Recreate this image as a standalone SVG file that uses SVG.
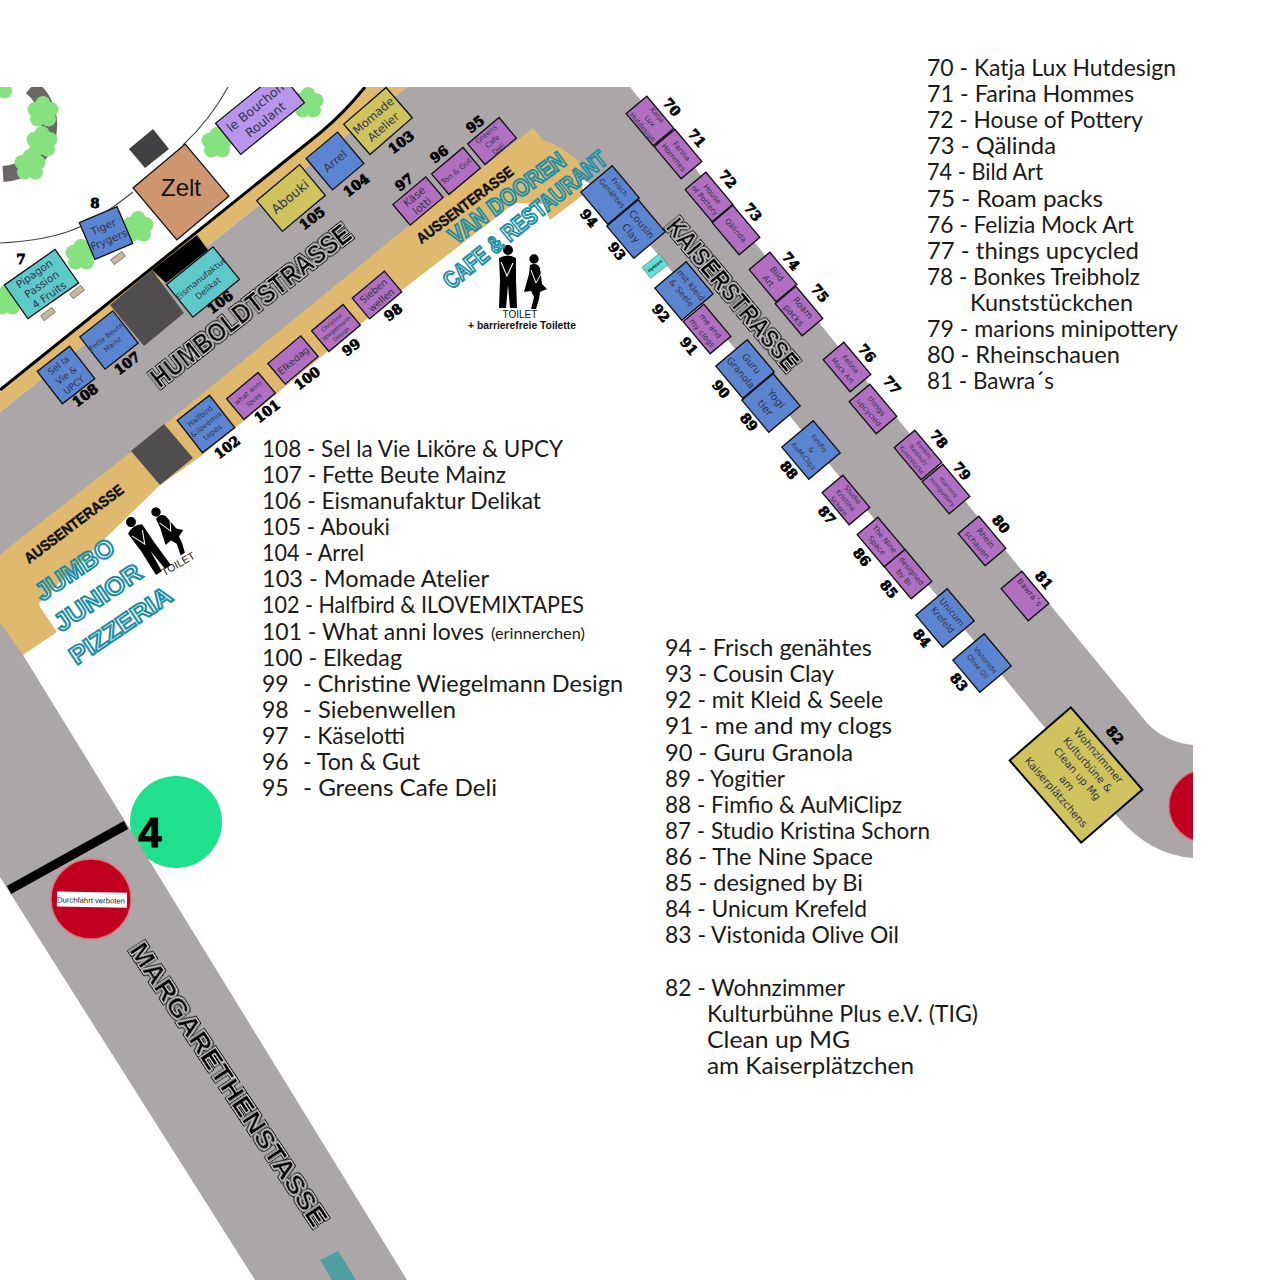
<svg xmlns="http://www.w3.org/2000/svg" xmlns:xlink="http://www.w3.org/1999/xlink" width="1280" height="1280" viewBox="0 0 1280 1280">
<style>
.st{stroke:#111;stroke-width:1.3}
.bl{fill:#5b85d1}.pu{fill:#b06fc0}.ye{fill:#cfc35e}.tu{fill:#5ec9c9}
.t{font-family:"DejaVu Sans","Liberation Sans",sans-serif;text-anchor:middle;fill:#33334a}
.n{font-family:"DejaVu Serif",serif;font-weight:900;font-size:13.5px;text-anchor:middle;fill:#000;stroke:#000;stroke-width:.8}
.l{font-family:"Lato","Liberation Sans",sans-serif;font-size:23px;fill:#1a1a1a}
.road{font-family:"Liberation Sans Narrow","Liberation Sans",sans-serif;font-weight:700;text-anchor:middle;fill:#000}
.terr{font-family:"Liberation Sans Narrow","Liberation Sans",sans-serif;font-weight:700;text-anchor:middle;fill:#111;stroke:#111;stroke-width:.5}
.teal{font-family:"Liberation Sans Narrow","Liberation Sans",sans-serif;font-weight:700;text-anchor:middle;fill:none;stroke:#1b8ea6;stroke-width:2}
.b{fill:#c8b79c;stroke:#6b6b6b;stroke-width:.8}
</style>
<defs>
<clipPath id="map"><rect x="0" y="87" width="1193" height="1193"/></clipPath>
<filter id="inl" x="-5%" y="-40%" width="110%" height="180%"><feMorphology in="SourceAlpha" operator="dilate" radius="2" result="o"/><feMorphology in="SourceAlpha" operator="dilate" radius="1" result="m"/><feFlood flood-color="#d4d2d2"/><feComposite in2="m" operator="in" result="g"/><feMerge><feMergeNode in="o"/><feMergeNode in="g"/><feMergeNode in="SourceGraphic"/></feMerge></filter>
<g id="tree" fill="#85e27e"><circle cx="0" cy="-8.500" r="7.500"/><circle cx="8" cy="-2.500" r="7.500"/><circle cx="5.500" cy="7" r="7.500"/><circle cx="-5.500" cy="7" r="7.500"/><circle cx="-8" cy="-2.500" r="7.500"/><circle r="6"/></g>
<g id="man"><circle cx="0" cy="0" r="5"/><path d="M-9,8Q0,3 8,8L8,30L9,58L2,58L0,35L-2,58L-9,58L-8,30Z"/><path d="M-7,12L-1,26L5,13" fill="none" stroke="#fff" stroke-width="1.1"/></g>
<g id="woman"><circle cx="0" cy="0" r="4.700"/><path d="M-4,6Q3,3 6,9L8,25L13,30L6,33L5,40L2,50L-3,50L0,38L-3,32L-10,33L-5,15Z"/><path d="M-3,11L2,24L7,15" fill="none" stroke="#fff" stroke-width="1"/></g>
</defs>
<rect width="1280" height="1280" fill="#fff"/>
<g id="map-base" clip-path="url(#map)">
<path id="roundabout" d="M31,87A49,49 0 0 1 3,174" fill="none" stroke="#6b6766" stroke-width="16"/>
<path d="M0,243Q40,241 67,232T133,192M183,145Q210,120 228,87" fill="none" stroke="#444" stroke-width="1.1"/>
<circle id="marker-4-bg" cx="176" cy="822" r="46" fill="#1fe08c"/>
<path id="road" fill="#aba7a8" d="M407,87L630,87L833,340L1147,723Q1165,742 1193,745L1193,858Q1150,855 1118,817L650,245L610,196L575,175L540,150L250,375L20,570L23,655L407,1280L255,1280L0,877L0,412Z"/>
<circle cx="1205" cy="806" r="36" fill="#c0001e" stroke="#e0606a" stroke-width="1.2"/>
<path id="terrace-top" fill="#deb96e" d="M0,392L320,133Q345,112 365,87L407,87L0,412Z"/>
<path d="M0,390L320,133Q345,112 365,87" fill="none" stroke="#000" stroke-width="3"/>
<path id="terrace-low" fill="#deb96e" d="M533,128L407,227L250,355L132,451L12,545L0,555L0,623L23,655L57,632L40,607Q38,602 42,600L160,485L200,457L402,290L515,203L543,204L550,220L583,195L580,162Q560,145 543,140Z"/>
<polygon fill="#000" points="152,270 197,235 208,250 166,283"/>
<polygon fill="#4f4d4d" points="110,305 152,270 184,313 144,346"/>
<polygon fill="#4f4d4d" points="131,451 164,424 193,458 160,485"/>
<polygon fill="#414042" points="129,149 153,129 169,149 145,168"/>
<polygon fill="#4f9ea0" points="320,1260 338,1251 356,1280 332,1280"/>
<path d="M9,890L126,825" stroke="#000" stroke-width="9"/>
<use href="#tree" xlink:href="#tree" x="217" y="143"/><use href="#tree" xlink:href="#tree" x="308" y="103"/><use href="#tree" xlink:href="#tree" x="138" y="227"/><use href="#tree" xlink:href="#tree" x="81" y="255"/><use href="#tree" xlink:href="#tree" x="7" y="300"/><use href="#tree" xlink:href="#tree" x="43" y="112"/><use href="#tree" xlink:href="#tree" x="42" y="142"/><use href="#tree" xlink:href="#tree" x="30" y="165"/><use href="#tree" xlink:href="#tree" x="-1" y="84"/>
<rect class="b" x="-7" y="-3" width="14" height="6" transform="translate(77,292) rotate(-37)"/><rect class="b" x="-7" y="-3" width="14" height="6" transform="translate(48,314) rotate(-37)"/><rect class="b" x="-7" y="-3" width="14" height="6" transform="translate(118,258) rotate(-37)"/>
</g>
<g id="signs">
<g id="no-entry"><circle cx="91" cy="899" r="40" fill="#c0001e" stroke="#e0707a" stroke-width="1.3"/><rect x="57" y="892" width="70" height="15" fill="#fff" transform="rotate(1 91 899)"/><text x="91" y="903" font-family="Liberation Sans,sans-serif" font-size="7.700" text-anchor="middle" fill="#222" transform="rotate(1 91 899)">Durchfahrt verboten</text></g>
<text id="marker-4" x="150" y="847" font-family="Liberation Sans,sans-serif" font-weight="700" font-size="42" text-anchor="middle" fill="#000" stroke="#000" stroke-width="1">4</text>
<use href="#man" xlink:href="#man" x="508" y="250"/><use href="#woman" xlink:href="#woman" x="534" y="259"/>
<g transform="translate(131,522) rotate(-34)"><use href="#man" xlink:href="#man"/></g><g transform="translate(156,512) rotate(-33)"><use href="#woman" xlink:href="#woman"/></g>
<text x="520" y="318" font-family="Liberation Sans,sans-serif" font-size="10" text-anchor="middle" fill="#111">TOILET</text>
<text x="522" y="329" font-family="Liberation Sans,sans-serif" font-weight="700" font-size="10" text-anchor="middle" fill="#111" textLength="108" lengthAdjust="spacingAndGlyphs">+ barrierefreie Toilette</text>
<text transform="translate(180,567) rotate(-30)" font-family="Liberation Sans,sans-serif" font-size="10.500" text-anchor="middle" fill="#111">TOILET</text>
</g>
<g id="street-labels">
<text class="road" filter="url(#inl)" font-size="27" transform="translate(251,306) rotate(-38)" y="9" textLength="246" lengthAdjust="spacingAndGlyphs">HUMBOLDTSTRASSE</text>
<text class="road" filter="url(#inl)" font-size="25" transform="translate(732,295) rotate(50)" y="8" textLength="190" lengthAdjust="spacingAndGlyphs">KAISERSTRASSE</text>
<text class="road" filter="url(#inl)" font-size="25" transform="translate(228,1085) rotate(56.400)" y="8" textLength="335" lengthAdjust="spacingAndGlyphs">MARGARETHENSTASSE</text>
<text class="terr" font-size="15" transform="translate(465,205) rotate(-37)" y="5" textLength="117" lengthAdjust="spacingAndGlyphs">AUSSENTERASSE</text>
<text class="terr" font-size="15" transform="translate(74,524) rotate(-37)" y="5" textLength="120" lengthAdjust="spacingAndGlyphs">AUSSENTERASSE</text>
<text class="teal" font-size="24" transform="translate(507,198) rotate(-36)" y="8" textLength="138" lengthAdjust="spacingAndGlyphs">VAN DOOREN</text>
<text class="teal" font-size="24" transform="translate(525,220) rotate(-39)" y="8" textLength="203" lengthAdjust="spacingAndGlyphs">CAFE &amp; RESTAURANT</text>
<text class="teal" font-size="25" transform="translate(75,570) rotate(-34)" y="8" textLength="90" lengthAdjust="spacingAndGlyphs">JUMBO</text>
<text class="teal" font-size="25" transform="translate(98,598) rotate(-34)" y="8" textLength="100" lengthAdjust="spacingAndGlyphs">JUNIOR</text>
<text class="teal" font-size="25" transform="translate(121,626) rotate(-34)" y="8" textLength="118" lengthAdjust="spacingAndGlyphs">PIZZERIA</text>
</g>
<g id="stalls">
<g id="s-zelt"><g transform="translate(181,192) rotate(-40)"><rect x="-34" y="-34" width="68" height="68" fill="#cd9670" class="st"/></g><text x="181" y="196" font-family="Liberation Sans,sans-serif" font-size="24" text-anchor="middle" fill="#111">Zelt</text></g>
<g id="s-bouchon" clip-path="url(#map)"><g transform="translate(260,113) rotate(-39)"><rect x="-41" y="-20" width="82" height="40" fill="#b894ec" class="st"/><text class="t" font-size="12.500"><tspan x="0" y="-3">le Bouchon</tspan><tspan x="0" y="13">Roulant</tspan></text></g></g>
<g id="s-7"><g transform="translate(41.500,284) rotate(-35)"><rect class="st tu" x="-31" y="-20.500" width="62" height="41"/><text class="t" font-size="10.500"><tspan x="0" y="-9">Pipagon</tspan><tspan x="0" y="4">Passion</tspan><tspan x="0" y="17">4 Fruits</tspan></text></g><text class="n" transform="translate(21,264)">7</text></g>
<g id="s-8"><g transform="translate(106,233) rotate(-23)"><rect class="st bl" x="-20.500" y="-20" width="41" height="40"/><text class="t" font-size="10.500"><tspan x="0" y="-3">Tiger</tspan><tspan x="0" y="11">Frygers</tspan></text></g><text class="n" transform="translate(95,208)">8</text></g>
<g id="s-106"><g transform="translate(203,282) rotate(-39)"><rect class="st tu" x="-30" y="-21" width="60" height="42"/><text class="t" font-size="8.500"><tspan x="0" y="-1">Eismanufaktur</tspan><tspan x="0" y="11">Delikat</tspan></text></g><text class="n" transform="translate(220,302) rotate(-37)" y="5">106</text></g>
<g id="s-107"><g transform="translate(109,340) rotate(-38)"><rect class="st bl" x="-21" y="-20.500" width="42" height="41"/><text class="t" font-size="7"><tspan x="0" y="-2">Fette Beute</tspan><tspan x="0" y="8">Mainz</tspan></text></g><text class="n" transform="translate(127,363) rotate(-37)" y="5">107</text></g>
<g id="s-108"><g transform="translate(66,375) rotate(-38)"><rect class="st bl" x="-20.500" y="-20.500" width="41" height="41"/><text class="t" font-size="9"><tspan x="0" y="-9">Sel la</tspan><tspan x="0" y="3.500">Vie &amp;</tspan><tspan x="0" y="16">UPCY</tspan></text></g><text class="n" transform="translate(85,395) rotate(-37)" y="5">108</text></g>
<g id="s-105"><g transform="translate(291,198) rotate(-40)"><rect class="st ye" x="-28" y="-20" width="56" height="40"/><text class="t" font-size="13" y="3">Abouki</text></g><text class="n" transform="translate(312,218) rotate(-37)" y="5">105</text></g>
<g id="s-104"><g transform="translate(335,161) rotate(-40)"><rect class="st bl" x="-20.500" y="-20.500" width="41" height="41"/><text class="t" font-size="11.500" y="4">Arrel</text></g><text class="n" transform="translate(356,185) rotate(-37)" y="5">104</text></g>
<g id="s-103"><g transform="translate(378,121) rotate(-41)"><rect class="st ye" x="-28" y="-20" width="56" height="40"/><text class="t" font-size="11.500"><tspan x="0" y="-3">Momade</tspan><tspan x="0" y="12">Atelier</tspan></text></g><text class="n" transform="translate(401,142) rotate(-37)" y="5">103</text></g>
<g id="s-97"><g transform="translate(418,201) rotate(-40)"><rect class="st pu" x="-21.500" y="-13.500" width="43" height="27"/><text class="t" font-size="10.500"><tspan x="0" y="-2">Käse</tspan><tspan x="0" y="10">lotti</tspan></text></g><text class="n" transform="translate(404,182) rotate(-37)" y="5">97</text></g>
<g id="s-96"><g transform="translate(456,171) rotate(-40)"><rect class="st pu" x="-20.500" y="-13.500" width="41" height="27"/><text class="t" font-size="7.500" y="3">Ton &amp; Gut</text></g><text class="n" transform="translate(439,154) rotate(-37)" y="5">96</text></g>
<g id="s-95"><g transform="translate(492,141) rotate(-40)"><rect class="st pu" x="-20.500" y="-13.500" width="41" height="27"/><text class="t" font-size="7.200"><tspan x="0" y="-6.500">Greens</tspan><tspan x="0" y="3">Cafe</tspan><tspan x="0" y="12.500">Deli</tspan></text></g><text class="n" transform="translate(475,124) rotate(-37)" y="5">95</text></g>
<g id="s-98"><g transform="translate(377,295) rotate(-40)"><rect class="st pu" x="-21" y="-13.500" width="42" height="27"/><text class="t" font-size="9.500"><tspan x="0" y="-2">Sieben</tspan><tspan x="0" y="10">wellen</tspan></text></g><text class="n" transform="translate(393,312) rotate(-37)" y="5">98</text></g>
<g id="s-99"><g transform="translate(336,328) rotate(-40)"><rect class="st pu" x="-20.500" y="-13.500" width="41" height="27"/><text class="t" font-size="5.600"><tspan x="0" y="-5">Christine</tspan><tspan x="0" y="2.500">Wiegelmann</tspan><tspan x="0" y="10">Design</tspan></text></g><text class="n" transform="translate(351,347) rotate(-37)" y="5">99</text></g>
<g id="s-100"><g transform="translate(293,360) rotate(-40)"><rect class="st pu" x="-21.500" y="-13.500" width="43" height="27"/><text class="t" font-size="9.500" y="4">Elkedag</text></g><text class="n" transform="translate(307,378) rotate(-37)" y="5">100</text></g>
<g id="s-101"><g transform="translate(251,396) rotate(-40)"><rect class="st pu" x="-20.500" y="-13.500" width="41" height="27"/><text class="t" font-size="6.800"><tspan x="0" y="-2">what anni</tspan><tspan x="0" y="7">loves</tspan></text></g><text class="n" transform="translate(267,411) rotate(-37)" y="5">101</text></g>
<g id="s-102"><g transform="translate(206,424) rotate(-38)"><rect class="st bl" x="-20.500" y="-20.500" width="41" height="41"/><text class="t" font-size="7.500"><tspan x="0" y="-7">Halfbird</tspan><tspan x="0" y="3">&amp;ilovemix</tspan><tspan x="0" y="13">tapes</tspan></text></g><text class="n" transform="translate(227,447) rotate(-37)" y="5">102</text></g>

<g id="s-70"><g transform="translate(650,121) rotate(50)"><rect class="st pu" x="-21" y="-13.500" width="42" height="27"/><text class="t" font-size="7"><tspan x="0" y="-7">Katja</tspan><tspan x="0" y="2.500">Lux</tspan><tspan x="0" y="12">Hutdesign</tspan></text></g><text class="n" transform="translate(672,107) rotate(50)" y="5">70</text></g>
<g id="s-71"><g transform="translate(678,154) rotate(50)"><rect class="st pu" x="-21" y="-13.500" width="42" height="27"/><text class="t" font-size="7.500"><tspan x="0" y="-2">Farina</tspan><tspan x="0" y="8">Hommes</tspan></text></g><text class="n" transform="translate(697,138) rotate(50)" y="5">71</text></g>
<g id="s-72"><g transform="translate(709,197) rotate(50)"><rect class="st pu" x="-21" y="-13.500" width="42" height="27"/><text class="t" font-size="7.500"><tspan x="0" y="-2">House</tspan><tspan x="0" y="8">of Pottery</tspan></text></g><text class="n" transform="translate(728,179) rotate(50)" y="5">72</text></g>
<g id="s-73"><g transform="translate(736,230) rotate(50)"><rect class="st pu" x="-21" y="-13.500" width="42" height="27"/><text class="t" font-size="7.500" y="3">Qälinda</text></g><text class="n" transform="translate(753,212) rotate(50)" y="5">73</text></g>
<g id="s-74"><g transform="translate(773,277) rotate(50)"><rect class="st pu" x="-21" y="-13.500" width="42" height="27"/><text class="t" font-size="8.500"><tspan x="0" y="-2">Bild</tspan><tspan x="0" y="9">Art</tspan></text></g><text class="n" transform="translate(791,261) rotate(50)" y="5">74</text></g>
<g id="s-75"><g transform="translate(799,311) rotate(50)"><rect class="st pu" x="-21" y="-13.500" width="42" height="27"/><text class="t" font-size="9"><tspan x="0" y="-2">Roam</tspan><tspan x="0" y="10">packs</tspan></text></g><text class="n" transform="translate(820,293) rotate(50)" y="5">75</text></g>
<g id="s-76"><g transform="translate(847,367) rotate(50)"><rect class="st pu" x="-21" y="-13.500" width="42" height="27"/><text class="t" font-size="7"><tspan x="0" y="-2">Felizia</tspan><tspan x="0" y="8">Mock Art</tspan></text></g><text class="n" transform="translate(867,353) rotate(50)" y="5">76</text></g>
<g id="s-77"><g transform="translate(873,409) rotate(50)"><rect class="st pu" x="-21" y="-13.500" width="42" height="27"/><text class="t" font-size="7.500"><tspan x="0" y="-2">things</tspan><tspan x="0" y="8">upcycled</tspan></text></g><text class="n" transform="translate(892,385) rotate(50)" y="5">77</text></g>
<g id="s-78"><g transform="translate(918,455) rotate(50)"><rect class="st pu" x="-21" y="-13.500" width="42" height="27"/><text class="t" font-size="5.800"><tspan x="0" y="-6">Bonkes</tspan><tspan x="0" y="2">Treibholz</tspan><tspan x="0" y="10">Kunststücke</tspan></text></g><text class="n" transform="translate(939,439) rotate(50)" y="5">78</text></g>
<g id="s-79"><g transform="translate(946,489) rotate(50)"><rect class="st pu" x="-21" y="-13.500" width="42" height="27"/><text class="t" font-size="6.200"><tspan x="0" y="-1">marions</tspan><tspan x="0" y="7">minipottery</tspan></text></g><text class="n" transform="translate(962,471) rotate(50)" y="5">79</text></g>
<g id="s-80"><g transform="translate(982,541) rotate(50)"><rect class="st pu" x="-21" y="-13.500" width="42" height="27"/><text class="t" font-size="8"><tspan x="0" y="-2">Rhein</tspan><tspan x="0" y="9">schauen</tspan></text></g><text class="n" transform="translate(1001,524) rotate(50)" y="5">80</text></g>
<g id="s-81"><g transform="translate(1025,596) rotate(50)"><rect class="st pu" x="-21" y="-13.500" width="42" height="27"/><text class="t" font-size="8" y="-3">Bawra´s</text></g><text class="n" transform="translate(1044,580) rotate(50)" y="5">81</text></g>
<g id="s-82"><g transform="translate(1076,775) rotate(49)"><rect class="ye" stroke="#000" stroke-width="2" x="-54.500" y="-40.500" width="109" height="81"/><text class="t" font-size="10.500"><tspan x="0" y="-26">Wohnzimmer</tspan><tspan x="0" y="-12">Kulturbüne &amp;</tspan><tspan x="0" y="2">Clean up Mg</tspan><tspan x="0" y="16">am</tspan><tspan x="0" y="30">Kaiserplätzchens</tspan></text></g><text class="n" transform="translate(1115,735) rotate(50)" y="5">82</text></g>
<g id="s-83"><g transform="translate(982,663) rotate(50)"><rect class="st bl" x="-21" y="-20.500" width="42" height="41"/><text class="t" font-size="7"><tspan x="0" y="-2">Vistonida</tspan><tspan x="0" y="8">Olive Oil</tspan></text></g><text class="n" transform="translate(959,682) rotate(50)" y="5">83</text></g>
<g id="s-84"><g transform="translate(945,618) rotate(50)"><rect class="st bl" x="-21" y="-20.500" width="42" height="41"/><text class="t" font-size="8.800"><tspan x="0" y="-6">Unicum</tspan><tspan x="0" y="6">Krefeld</tspan></text></g><text class="n" transform="translate(922,638) rotate(50)" y="5">84</text></g>
<g id="s-85"><g transform="translate(908,574) rotate(50)"><rect class="st pu" x="-21" y="-13.500" width="42" height="27"/><text class="t" font-size="7.500"><tspan x="0" y="-2">designed</tspan><tspan x="0" y="8">by Bi</tspan></text></g><text class="n" transform="translate(889,589) rotate(50)" y="5">85</text></g>
<g id="s-86"><g transform="translate(881,542) rotate(50)"><rect class="st pu" x="-21" y="-13.500" width="42" height="27"/><text class="t" font-size="7.500"><tspan x="0" y="-2">The Nine</tspan><tspan x="0" y="8">Space</tspan></text></g><text class="n" transform="translate(862,557) rotate(50)" y="5">86</text></g>
<g id="s-87"><g transform="translate(846,500) rotate(50)"><rect class="st pu" x="-21" y="-13.500" width="42" height="27"/><text class="t" font-size="6.800"><tspan x="0" y="-6">Studio</tspan><tspan x="0" y="3">Kristina</tspan><tspan x="0" y="12">Schorn</tspan></text></g><text class="n" transform="translate(827,515) rotate(50)" y="5">87</text></g>
<g id="s-88"><g transform="translate(811,450) rotate(50)"><rect class="st bl" x="-21" y="-20.500" width="42" height="41"/><text class="t" font-size="7"><tspan x="0" y="-8">Fimfio</tspan><tspan x="0" y="2">&amp;</tspan><tspan x="0" y="12">AuMiClipz</tspan></text></g><text class="n" transform="translate(789,470) rotate(50)" y="5">88</text></g>
<g id="s-89"><g transform="translate(771,403) rotate(50)"><rect class="st bl" x="-21" y="-20.500" width="42" height="41"/><text class="t" font-size="10.500"><tspan x="0" y="-3">Yogi</tspan><tspan x="0" y="11">tier</tspan></text></g><text class="n" transform="translate(749,422) rotate(50)" y="5">89</text></g>
<g id="s-90"><g transform="translate(745,369) rotate(50)"><rect class="st bl" x="-21" y="-20.500" width="42" height="41"/><text class="t" font-size="9.500"><tspan x="0" y="-5">Guru</tspan><tspan x="0" y="9">Granola</tspan></text></g><text class="n" transform="translate(721,389) rotate(50)" y="5">90</text></g>
<g id="s-91"><g transform="translate(707,329) rotate(50)"><rect class="st pu" x="-21" y="-13.500" width="42" height="27"/><text class="t" font-size="7.800"><tspan x="0" y="-2">me and</tspan><tspan x="0" y="9">my clogs</tspan></text></g><text class="n" transform="translate(689,346) rotate(50)" y="5">91</text></g>
<g id="s-92"><g transform="translate(684,291) rotate(50)"><rect class="st bl" x="-21" y="-20.500" width="42" height="41"/><text class="t" font-size="8.500"><tspan x="0" y="-6">mit Kleid</tspan><tspan x="0" y="6">&amp; Seele</tspan></text></g><text class="n" transform="translate(661,313) rotate(50)" y="5">92</text></g>
<g id="s-93"><g transform="translate(636,229) rotate(50)"><rect class="st bl" x="-21" y="-20.500" width="42" height="41"/><text class="t" font-size="10"><tspan x="0" y="-4">Cousin</tspan><tspan x="0" y="10">Clay</tspan></text></g><text class="n" transform="translate(617,251) rotate(50)" y="5">93</text></g>
<g id="s-94"><g transform="translate(610,195) rotate(50)"><rect class="st bl" x="-21" y="-20.500" width="42" height="41"/><text class="t" font-size="7.500"><tspan x="0" y="-10">Frisch</tspan><tspan x="0" y="0">Genähtes</tspan></text></g><text class="n" transform="translate(589,218) rotate(50)" y="5">94</text></g>
<g id="s-hydrant" transform="translate(655,266) rotate(-38)"><rect x="-11" y="-7" width="22" height="14" fill="#5ee0d8" stroke="#666" stroke-width=".6"/><text font-family="Liberation Sans,sans-serif" font-weight="700" font-size="4.500" text-anchor="middle" y="1.500" fill="#111">Hydrant</text></g>
</g>
<g id="legend-70-81">
<text class="l" x="927" y="76" textLength="249" lengthAdjust="spacingAndGlyphs">70 - Katja Lux Hutdesign</text>
<text class="l" x="927" y="102" textLength="207" lengthAdjust="spacingAndGlyphs">71 - Farina Hommes</text>
<text class="l" x="927" y="128" textLength="216" lengthAdjust="spacingAndGlyphs">72 - House of Pottery</text>
<text class="l" x="927" y="154" textLength="129" lengthAdjust="spacingAndGlyphs">73 - Qälinda</text>
<text class="l" x="927" y="180" textLength="116" lengthAdjust="spacingAndGlyphs">74 - Bild Art</text>
<text class="l" x="927" y="207" textLength="176" lengthAdjust="spacingAndGlyphs">75 - Roam packs</text>
<text class="l" x="927" y="233" textLength="207" lengthAdjust="spacingAndGlyphs">76 - Felizia Mock Art</text>
<text class="l" x="927" y="259" textLength="212" lengthAdjust="spacingAndGlyphs">77 - things upcycled</text>
<text class="l" x="927" y="285" textLength="213" lengthAdjust="spacingAndGlyphs">78 - Bonkes Treibholz</text>
<text class="l" x="970" y="311" textLength="163" lengthAdjust="spacingAndGlyphs">Kunststückchen</text>
<text class="l" x="927" y="337" textLength="251" lengthAdjust="spacingAndGlyphs">79 - marions minipottery</text>
<text class="l" x="927" y="363" textLength="193" lengthAdjust="spacingAndGlyphs">80 - Rheinschauen</text>
<text class="l" x="927" y="389" textLength="127" lengthAdjust="spacingAndGlyphs">81 - Bawra´s</text>
</g>
<g id="legend-95-108" transform="translate(0,.7)">
<text class="l" x="262" y="456" textLength="301" lengthAdjust="spacingAndGlyphs">108 - Sel la Vie Liköre &amp; UPCY</text>
<text class="l" x="262" y="482" textLength="244" lengthAdjust="spacingAndGlyphs">107 - Fette Beute Mainz</text>
<text class="l" x="262" y="508" textLength="279" lengthAdjust="spacingAndGlyphs">106 - Eismanufaktur Delikat</text>
<text class="l" x="262" y="534" textLength="128" lengthAdjust="spacingAndGlyphs">105 - Abouki</text>
<text class="l" x="262" y="560" textLength="102" lengthAdjust="spacingAndGlyphs">104 - Arrel</text>
<text class="l" x="262" y="586" textLength="227" lengthAdjust="spacingAndGlyphs">103 - Momade Atelier</text>
<text class="l" x="262" y="612" textLength="322" lengthAdjust="spacingAndGlyphs">102 - Halfbird &amp; ILOVEMIXTAPES</text>
<text class="l" x="262" y="639" textLength="222" lengthAdjust="spacingAndGlyphs">101 - What anni loves</text>
<text class="l" x="491" y="638" textLength="94" lengthAdjust="spacingAndGlyphs" style="font-size:15px">(erinnerchen)</text>
<text class="l" x="262" y="665" textLength="140" lengthAdjust="spacingAndGlyphs">100 - Elkedag</text>
<text class="l" x="262" y="691">99</text><text class="l" x="303" y="691" textLength="320" lengthAdjust="spacingAndGlyphs">- Christine Wiegelmann Design</text>
<text class="l" x="262" y="717">98</text><text class="l" x="303" y="717" textLength="153" lengthAdjust="spacingAndGlyphs">- Siebenwellen</text>
<text class="l" x="262" y="743">97</text><text class="l" x="303" y="743" textLength="102" lengthAdjust="spacingAndGlyphs">- Käselotti</text>
<text class="l" x="262" y="769">96</text><text class="l" x="303" y="769" textLength="117" lengthAdjust="spacingAndGlyphs">- Ton &amp; Gut</text>
<text class="l" x="262" y="795">95</text><text class="l" x="303" y="795" textLength="194" lengthAdjust="spacingAndGlyphs">- Greens Cafe Deli</text>
</g>
<g id="legend-82-94" transform="translate(0,.7)">
<text class="l" x="665" y="655" textLength="207" lengthAdjust="spacingAndGlyphs">94 - Frisch genähtes</text>
<text class="l" x="665" y="681" textLength="169" lengthAdjust="spacingAndGlyphs">93 - Cousin Clay</text>
<text class="l" x="665" y="707" textLength="218" lengthAdjust="spacingAndGlyphs">92 - mit Kleid &amp; Seele</text>
<text class="l" x="665" y="733" textLength="227" lengthAdjust="spacingAndGlyphs">91 - me and my clogs</text>
<text class="l" x="665" y="760" textLength="188" lengthAdjust="spacingAndGlyphs">90 - Guru Granola</text>
<text class="l" x="665" y="786" textLength="120" lengthAdjust="spacingAndGlyphs">89 - Yogitier</text>
<text class="l" x="665" y="812" textLength="237" lengthAdjust="spacingAndGlyphs">88 - Fimfio &amp; AuMiClipz</text>
<text class="l" x="665" y="838" textLength="265" lengthAdjust="spacingAndGlyphs">87 - Studio Kristina Schorn</text>
<text class="l" x="665" y="864" textLength="208" lengthAdjust="spacingAndGlyphs">86 - The Nine Space</text>
<text class="l" x="665" y="890" textLength="198" lengthAdjust="spacingAndGlyphs">85 - designed by Bi</text>
<text class="l" x="665" y="916" textLength="202" lengthAdjust="spacingAndGlyphs">84 - Unicum Krefeld</text>
<text class="l" x="665" y="942" textLength="234" lengthAdjust="spacingAndGlyphs">83 - Vistonida Olive Oil</text>
<text class="l" x="665" y="995" textLength="180" lengthAdjust="spacingAndGlyphs">82 - Wohnzimmer</text>
<text class="l" x="707" y="1021" textLength="271" lengthAdjust="spacingAndGlyphs">Kulturbühne Plus e.V. (TIG)</text>
<text class="l" x="707" y="1047" textLength="143" lengthAdjust="spacingAndGlyphs">Clean up MG</text>
<text class="l" x="707" y="1073" textLength="207" lengthAdjust="spacingAndGlyphs">am Kaiserplätzchen</text>
</g>
</svg>
